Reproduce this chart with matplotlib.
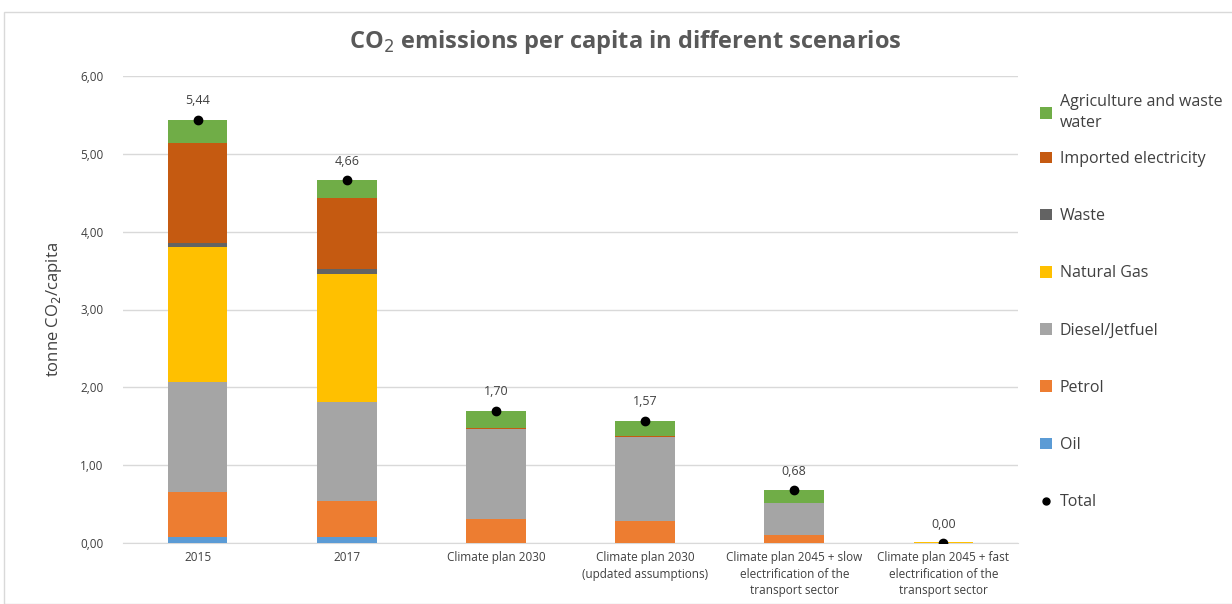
import matplotlib
matplotlib.use("Agg")
import matplotlib.pyplot as plt
import numpy as np
from matplotlib.patches import Rectangle
from matplotlib.lines import Line2D

plt.rcParams['font.family'] = ['Open Sans', 'DejaVu Sans']

scenarios = ["2015", "2017", "Climate plan 2030",
             "Climate plan 2030\n(updated assumptions)",
             "Climate plan 2045 + slow\nelectrification of the\ntransport sector",
             "Climate plan 2045 + fast\nelectrification of the\ntransport sector"]

oil = [0.08, 0.08, 0.00, 0.00, 0.00, 0.00]
petrol = [0.57, 0.46, 0.31, 0.28, 0.10, 0.00]
diesel = [1.42, 1.27, 1.15, 1.08, 0.41, 0.00]
natural_gas = [1.73, 1.64, 0.00, 0.00, 0.00, 0.012]
waste = [0.05, 0.07, 0.00, 0.00, 0.00, 0.00]
imported = [1.29, 0.91, 0.02, 0.02, 0.00, 0.00]
agriculture = [0.30, 0.23, 0.22, 0.19, 0.17, 0.00]
total = [5.44, 4.66, 1.70, 1.57, 0.68, 0.00]

series = [
    ("Oil", oil, "#5B9BD5"),
    ("Petrol", petrol, "#ED7D31"),
    ("Diesel/Jetfuel", diesel, "#A5A5A5"),
    ("Natural Gas", natural_gas, "#FFC000"),
    ("Waste", waste, "#636363"),
    ("Imported electricity", imported, "#C55A11"),
    ("Agriculture and waste\nwater", agriculture, "#70AD47"),
]

fig = plt.figure(figsize=(12.32, 6.04), dpi=100)
fig.patches.append(Rectangle((4 / 1232, 0), 1.0, 1 - 12 / 604, transform=fig.transFigure,
                             fill=False, edgecolor="#D9D9D9", linewidth=1))
ax = fig.add_axes([123 / 1232, 61 / 604, 895 / 1232, 467 / 604])

x = np.arange(len(scenarios))
bottom = np.zeros(len(scenarios))
handles = []
for name, vals, color in series:
    vals = np.array(vals)
    bars = ax.bar(x, vals, width=0.4, bottom=bottom, color=color, label=name, zorder=3)
    bottom += vals
    handles.append(bars)

ax.scatter(x, total, color="black", s=36, zorder=5)
for xi, t in zip(x, total):
    ax.annotate(f"{t:.2f}".replace(".", ","), (xi, t), xytext=(0, 9), textcoords="offset points",
                ha="center", va="bottom", fontsize=9, color="#404040")

ax.set_xlim(-0.5, len(scenarios) - 0.5)
ax.set_ylim(0, 6)
ax.set_yticks(np.arange(0, 7, 1))
ax.set_yticklabels([f"{v:.2f}".replace(".", ",") for v in np.arange(0, 7, 1)])
ax.set_xticks(x)
ax.set_xticklabels(scenarios, fontsize=8.5, color="#404040", linespacing=1.35)
ax.tick_params(axis="y", labelsize=8.5, labelcolor="#404040", length=0, pad=14)
ax.tick_params(axis="x", length=0, pad=6)
ax.grid(axis="y", color="#D9D9D9", linewidth=1, zorder=0)
for s in ["top", "right", "left"]:
    ax.spines[s].set_visible(False)
ax.spines["bottom"].set_color("#D9D9D9")

ax.set_ylabel("tonne CO$_2$/capita", fontsize=12, color="#404040", labelpad=12)
fig.text(625 / 1232, 1 - 42 / 604, "CO$_2$ emissions per capita in different scenarios",
         ha="center", va="center", fontsize=17, fontweight="bold", color="#595959")

# first legend entry wraps on two lines, so it gets its own legend box
leg_kw = dict(frameon=False, fontsize=11.5, handlelength=0.75, handleheight=0.75,
              handletextpad=0.5, labelcolor="#404040", borderaxespad=0, borderpad=0)
leg1 = fig.legend([handles[-1]], [series[-1][0]], loc="upper left",
                  bbox_to_anchor=(1040 / 1232, 1 - 94 / 604), **leg_kw)
leg1.get_texts()[0].set_linespacing(1.45)
total_handle = Line2D([], [], marker="o", color="black", linestyle="none", markersize=5)
leg_handles = handles[-2::-1] + [total_handle]
leg_labels = [s[0] for s in series[-2::-1]] + ["Total"]
leg2 = fig.legend(leg_handles, leg_labels, loc="upper left",
                  bbox_to_anchor=(1040 / 1232, 1 - 151 / 604), labelspacing=2.58, **leg_kw)

plt.savefig("out.png", dpi=100)
